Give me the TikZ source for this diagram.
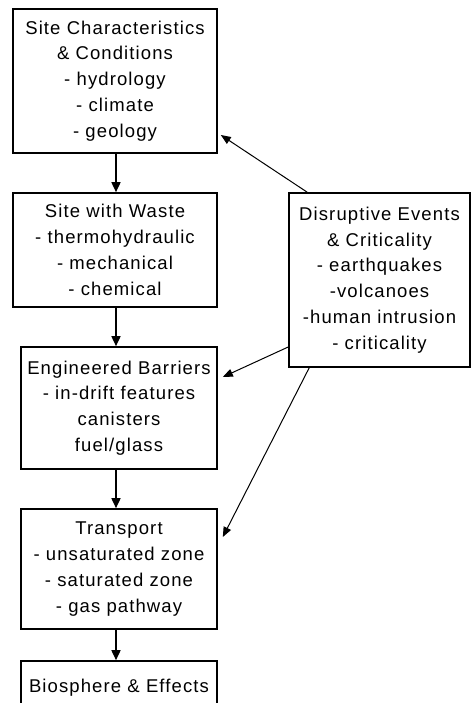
\documentclass[tikz,border=0pt]{standalone}
\usepackage{fontspec}
\setmainfont{Liberation Sans}[LetterSpace=6]
\usetikzlibrary{calc,arrows.meta}
\begin{document}
\begin{tikzpicture}[x=1pt,y=-1pt,
  box/.style={draw,line width=1.6pt,inner sep=0pt,align=center,font=\fontsize{18.5}{25.8}\selectfont},
  varr/.style={line width=1.6pt,-{Triangle[width=9pt,length=10pt]}},
  darr/.style={line width=1pt,-{Triangle[width=8pt,length=10pt]}}]
\useasboundingbox (0,0) rectangle (471,703);
\clip (0,0) rectangle (471,703);
\node[box,minimum width=204pt,minimum height=144pt] (B1) at (115,81)
  {Site Characteristics\\ \& Conditions\\ - hydrology\\ - climate\\ - geology};
\node[box,minimum width=204pt,minimum height=114pt] (B2) at (115,250)
  {Site with Waste\\ - thermohydraulic\\ - mechanical\\ - chemical};
\node[box,minimum width=196pt,minimum height=122pt] (B3) at (119,408)
  {Engineered Barriers\\ - in-drift features\\ canisters\\ fuel/glass};
\node[box,minimum width=196pt,minimum height=120pt] (B4) at (119,569)
  {Transport\\ - unsaturated zone\\ - saturated zone\\ - gas pathway};
\node[box,minimum width=196pt,minimum height=54pt] (B5) at (119,688)
  {Biosphere \& Effects};
\node[box,minimum width=181pt,minimum height=174pt] (D) at (379.5,280)
  {Disruptive Events\\ \& Criticality\\ - earthquakes\\ -volcanoes\\ -human intrusion\\ - criticality};
\draw[varr] ($(B1.south)+(1,0)$) -- ($(B2.north)+(1,0)$);
\draw[varr] ($(B2.south)+(1,0)$) -- ($(B3.north)+(-3,0)$);
\draw[varr] ($(B3.south)+(-3,0)$) -- ($(B4.north)+(-3,0)$);
\draw[varr] ($(B4.south)+(-3,0)$) -- ($(B5.north)+(-3,0)$);
\draw[darr] ($(D.north west)+(19,0)$) -- ($(B1.east)+(3,54)$);
\draw[darr] ($(D.west)+(0,67)$) -- ($(B3.east)+(5,-31)$);
\draw[darr] ($(D.south west)+(21,0)$) -- ($(B4.east)+(5,-32)$);
\end{tikzpicture}
\end{document}
